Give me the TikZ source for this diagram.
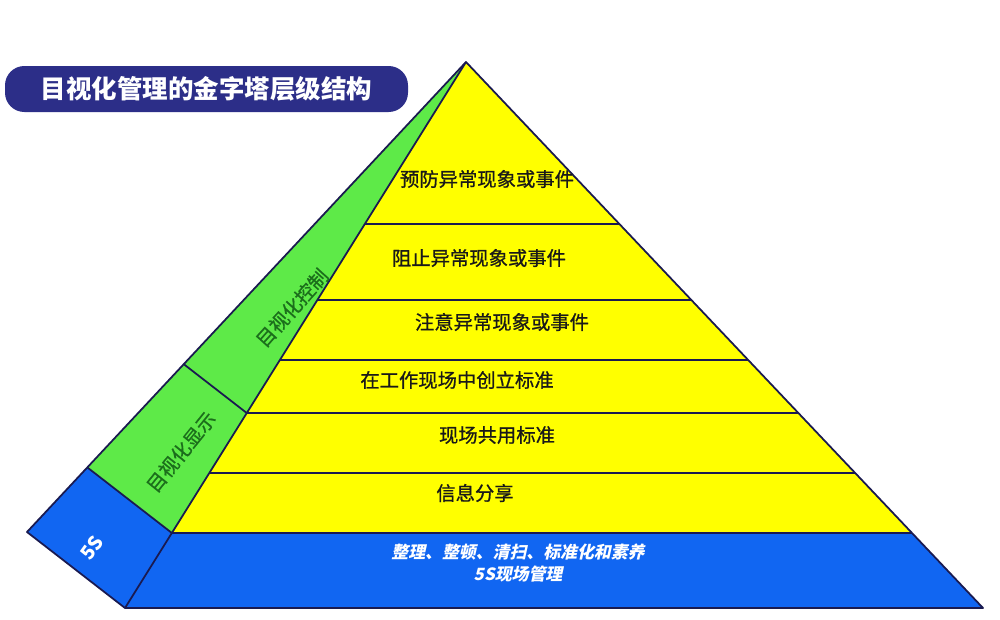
\documentclass[tikz,border=0pt]{standalone}
\usepackage{fontspec}
\setmainfont{Noto Sans CJK SC}
\newfontfamily\slantfont[FakeSlant=0.22]{Noto Sans CJK SC}
\newfontfamily\heavyfont[FakeBold=0.8]{Noto Sans CJK SC}
\usepackage{tikz}
\usetikzlibrary{calc}

\definecolor{pyrYellow}{HTML}{FFFF00}
\definecolor{pyrGreen}{HTML}{5EEA48}
\definecolor{pyrBlue}{HTML}{1166F2}
\definecolor{pyrLine}{HTML}{1A1A50}
\definecolor{titleBlue}{HTML}{2C2E88}
\definecolor{sideText}{HTML}{1B6E1B}

\begin{document}
\begin{tikzpicture}[x=0.2mm, y=-0.2mm,
    edge/.style={draw=pyrLine, line width=1pt, line join=round},
    layer/.style={draw=pyrLine, line width=1.4pt},
    layertext/.style={font=\heavyfont\fontsize{11}{13}\selectfont, text=black!90},
    sidetext/.style={font=\heavyfont\fontsize{11}{13}\selectfont, text=sideText, inner sep=1pt},
    basetext/.style={font=\slantfont\bfseries\fontsize{9.6}{13}\selectfont, text=white, align=center},
  ]
    \useasboundingbox[fill=white] (0, 0) rectangle (1000, 620);

    \coordinate (A) at (466, 62);    % apex
    \coordinate (BL) at (125, 608);
    \coordinate (BR) at (983, 608);
    \coordinate (SL) at (27, 532);

    \pgfmathsetmacro{\tb}{0.8626}   % top of the 5S band
    \pgfmathsetmacro{\tg}{0.6429}   % split of the green face

    \coordinate (FL) at ($(A)!\tb!(BL)$);
    \coordinate (FR) at ($(A)!\tb!(BR)$);
    \coordinate (SB) at ($(A)!\tb!(SL)$);

    % faces
    \fill[pyrYellow] (A) -- (FL) -- (FR) -- cycle;
    \fill[pyrBlue] (FL) -- (BL) -- (BR) -- (FR) -- cycle;
    \fill[pyrGreen] (A) -- (SB) -- (FL) -- cycle;
    \fill[pyrBlue] (SB) -- (SL) -- (BL) -- (FL) -- cycle;

    % layer lines
    \foreach \t in {0.2967, 0.4359, 0.5458, 0.6429, 0.7527}
        \draw[layer] ($(A)!\t!(BL)$) -- ($(A)!\t!(BR)$);
    \draw[edge] (FL) -- (FR);
    \draw[edge] ($(A)!\tg!(SL)$) -- ($(A)!\tg!(BL)$);
    \draw[edge] (SB) -- (FL);

    \draw[edge] (A) -- (BL);
    \draw[edge] (A) -- (SL) -- (BL) -- (BR) -- cycle;

    % title
    \node[fill=titleBlue, rounded corners=11pt, minimum width=403*0.2mm, minimum height=46*0.2mm,
          text=white, font=\bfseries\fontsize{14.5}{16}\selectfont] (title) at (206.5, 89) {目视化管理的金字塔层级结构};

    \node[layertext] (prevent) at (487, 179) {预防异常现象或事件};
    \node[layertext] (stop) at (479, 258) {阻止异常现象或事件};
    \node[layertext] (notice) at (502, 322) {注意异常现象或事件};
    \node[layertext] (create) at (457, 380) {在工作现场中创立标准};
    \node[layertext] (share) at (497, 435) {现场共用标准};
    \node[layertext] (info) at (475, 493) {信息分享};

    \node[basetext] (fives) at (518, 563) {整理、整顿、清扫、标准化和素养\\5S现场管理};

    \node[sidetext, rotate=48] (control) at (292, 308) {目视化控制};
    \node[sidetext, rotate=51] (display) at (181, 452) {目视化显示};
    \node[text=white, inner sep=1pt, font=\bfseries\fontsize{11}{12}\selectfont, rotate=54] (five) at (92, 548) {5S};
\end{tikzpicture}
\end{document}
